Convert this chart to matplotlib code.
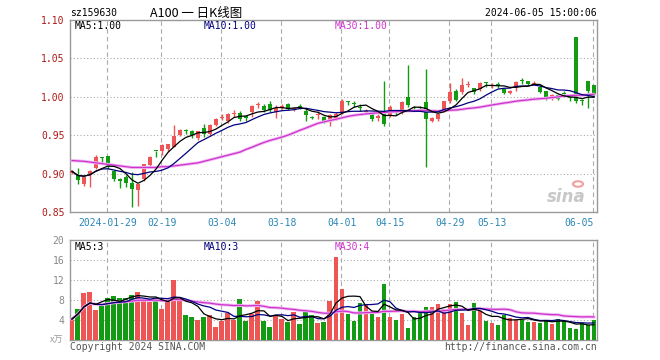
import numpy as np
import pandas as pd
import matplotlib
matplotlib.use("Agg")
import matplotlib.pyplot as plt
from matplotlib.patches import Circle

# trading days 2024-01-19 .. 2024-06-05, index 0..87
tick_idx = [6, 15, 25, 35, 45, 53, 63, 70, 87]
tick_labels = ['2024-01-29', '02-19', '03-04', '03-18', '04-01',
               '04-15', '04-29', '05-13', '06-05']

opens = [0.901, 0.898, 0.886, 0.899, 0.907, 0.921, 0.923, 0.904, 0.893, 0.896,
         0.888, 0.878, 0.893, 0.911, 0.930, 0.930, 0.932, 0.935, 0.950, 0.956,
         0.956, 0.946, 0.959, 0.951, 0.963, 0.973, 0.968, 0.978, 0.979, 0.975,
         0.980, 0.989, 0.988, 0.991, 0.980, 0.986, 0.991, 0.984, 0.988, 0.982,
         0.974, 0.976, 0.974, 0.967, 0.972, 0.979, 0.994, 0.992, 0.987, 0.980,
         0.977, 0.973, 0.981, 0.976, 0.981, 0.981, 1.000, 0.986, 0.987, 0.993,
         0.969, 0.971, 0.983, 0.994, 1.008, 1.006, 1.016, 1.011, 1.010, 1.019,
         1.014, 1.016, 1.010, 1.005, 1.011, 1.021, 1.020, 1.017, 1.013, 1.007,
         0.997, 1.002, 1.005, 1.000, 1.078, 0.995, 1.020, 1.015]
highs = [0.905, 0.907, 0.896, 0.905, 0.924, 0.9215, 0.923, 0.905, 0.894, 0.898,
         0.902, 0.887, 0.913, 0.923, 0.930, 0.938, 0.939, 0.963, 0.958, 0.958,
         0.957, 0.956, 0.964, 0.964, 0.972, 0.977, 0.979, 0.983, 0.982, 0.976,
         0.989, 0.993, 0.990, 0.994, 0.989, 0.991, 0.992, 0.987, 0.990, 0.985,
         0.9745, 0.981, 0.975, 0.978, 0.980, 0.997, 0.994, 0.994, 0.990, 0.984,
         0.979, 0.977, 1.020, 0.989, 0.983, 0.994, 1.041, 0.988, 0.988, 1.036,
         0.974, 0.979, 0.995, 1.018, 1.010, 1.025, 1.021, 1.012, 1.019, 1.019,
         1.018, 1.019, 1.011, 1.009, 1.020, 1.025, 1.021, 1.021, 1.016, 1.008,
         1.003, 1.004, 1.007, 1.000, 1.078, 0.997, 1.021, 1.016]
lows = [0.899, 0.886, 0.884, 0.883, 0.906, 0.914, 0.906, 0.891, 0.881, 0.882,
        0.857, 0.858, 0.890, 0.910, 0.922, 0.924, 0.930, 0.934, 0.949, 0.952,
        0.947, 0.944, 0.948, 0.949, 0.962, 0.970, 0.966, 0.974, 0.968, 0.968,
        0.974, 0.985, 0.980, 0.980, 0.973, 0.984, 0.983, 0.982, 0.984, 0.968,
        0.971, 0.971, 0.966, 0.962, 0.970, 0.978, 0.989, 0.987, 0.982, 0.978,
        0.968, 0.968, 0.962, 0.974, 0.976, 0.978, 0.987, 0.983, 0.983, 0.908,
        0.967, 0.968, 0.981, 0.992, 0.995, 1.004, 1.013, 1.004, 1.008, 1.013,
        1.011, 1.011, 1.004, 1.003, 1.008, 1.017, 1.015, 1.015, 1.005, 0.996,
        0.996, 0.996, 1.001, 0.995, 0.992, 0.989, 0.985, 1.001]
closes = [0.903, 0.892, 0.895, 0.904, 0.922, 0.920, 0.908, 0.893, 0.890, 0.888,
          0.880, 0.886, 0.912, 0.922, 0.929, 0.937, 0.938, 0.949, 0.957, 0.955,
          0.950, 0.955, 0.951, 0.963, 0.971, 0.974, 0.978, 0.979, 0.971, 0.973,
          0.988, 0.990, 0.983, 0.983, 0.986, 0.988, 0.984, 0.986, 0.987, 0.976,
          0.973, 0.977, 0.967, 0.976, 0.978, 0.994, 0.993, 0.991, 0.986, 0.982,
          0.971, 0.975, 0.964, 0.987, 0.979, 0.993, 0.989, 0.985, 0.986, 0.971,
          0.973, 0.978, 0.994, 1.006, 0.996, 1.015, 1.017, 1.006, 1.018, 1.018,
          1.015, 1.015, 1.005, 1.008, 1.019, 1.020, 1.017, 1.018, 1.006, 0.997,
          1.002, 0.997, 1.004, 0.999, 0.994, 0.994, 1.007, 1.003]
# volume in units of 万
volumes = [4.2, 6.2, 9.5, 9.7, 6.1, 6.8, 8.4, 8.8, 8.5, 8.4,
           9.0, 9.7, 8.3, 7.6, 8.4, 6.2, 7.8, 12.0, 7.8, 5.0,
           4.6, 4.1, 4.6, 5.1, 2.7, 3.8, 5.4, 4.1, 8.2, 3.8,
           5.3, 7.9, 3.9, 2.7, 4.9, 4.2, 3.7, 5.7, 3.3, 5.6,
           5.1, 3.5, 3.7, 7.9, 16.7, 10.2, 5.2, 3.9, 7.4, 7.0,
           5.5, 4.7, 11.2, 4.7, 4.0, 5.2, 2.4, 4.7, 5.5, 6.7,
           6.7, 7.2, 6.3, 7.2, 7.6, 5.5, 3.0, 7.4, 5.8, 3.9,
           3.5, 3.0, 5.1, 4.5, 4.1, 4.0, 3.7, 3.7, 3.5, 4.1,
           3.2, 4.3, 3.8, 2.4, 2.2, 3.5, 3.1, 4.0]
# MA30 of price for the first 29 sessions (earlier closes are not on the chart)
ma30_head = [0.917, 0.9165, 0.916, 0.915, 0.914, 0.913, 0.912, 0.911, 0.910, 0.909,
             0.908, 0.908, 0.908, 0.908, 0.908, 0.909, 0.909, 0.910, 0.911, 0.912,
             0.913, 0.914, 0.916, 0.918, 0.920, 0.922, 0.924, 0.926, 0.928]

RED = '#ee5555'
GREEN = '#139c13'
GRID = '#aaaaaa'
MONO = 'DejaVu Sans Mono'

n = len(closes)
x = np.arange(n)
o = np.array(opens)
c = np.array(closes)
up = c >= o
colors = [RED if u else GREEN for u in up]

s = pd.Series(closes)
ma5 = s.rolling(5, min_periods=1).mean()
ma10 = s.rolling(10, min_periods=1).mean()
ma30 = s.rolling(30).mean()
ma30.iloc[:len(ma30_head)] = ma30_head

v = pd.Series(volumes)
vma5 = v.rolling(5, min_periods=1).mean()
vma10 = v.rolling(10, min_periods=1).mean()
vma30 = v.rolling(30, min_periods=1).mean()

W, H = 660, 360
fig = plt.figure(figsize=(W / 100, H / 100), dpi=100)
ax1 = fig.add_axes([70 / W, 1 - 212 / H, 527 / W, 192 / H])
ax2 = fig.add_axes([70 / W, 1 - 340 / H, 527 / W, 100 / H])

def px(xp, yp):
    return xp / W, 1 - yp / H

xlim = (-0.33, 87.5)
grid_x = [t - 0.2 for t in tick_idx]

# ---- price panel ----
ax1.vlines(x, lows, highs, colors=colors, lw=1, zorder=3)
body_lo = np.minimum(o, c)
body_h = np.maximum(np.abs(c - o), 0.0013)
ax1.bar(x, body_h, bottom=body_lo, width=0.75, color=colors, linewidth=0, zorder=4)

ax1.plot(x, ma30, color='#f2b6f2', lw=2.2, zorder=5, solid_capstyle='round')
ax1.plot(x, ma30, color='#cc33cc', lw=0.9, zorder=6)
ax1.plot(x, ma10, color='#000080', lw=0.9, zorder=6)
ax1.plot(x, ma5, color='black', lw=0.9, zorder=7)

ax1.set_xlim(*xlim)
ax1.set_ylim(0.85, 1.10)
ax1.set_yticks([0.85, 0.90, 0.95, 1.00, 1.05, 1.10])
ax1.set_yticklabels(['%.2f' % t for t in [0.85, 0.90, 0.95, 1.00, 1.05, 1.10]],
                    color='#b01818', fontsize=7, family=MONO)
for yv in [0.90, 0.95, 1.00, 1.05]:
    ax1.axhline(yv, color=GRID, lw=0.8, ls=(0, (1, 2)), zorder=1)
for gx in grid_x:
    ax1.axvline(gx, color=GRID, lw=0.8, ls=(0, (4, 3)), zorder=1)
ax1.set_xticks(tick_idx)
ax1.set_xticklabels(tick_labels, color='#2a87b5', fontsize=7, family=MONO)
ax1.get_xticklabels()[-1].set_ha('right')
ax1.tick_params(length=0, pad=4)

# ---- volume panel ----
ax2.bar(x, volumes, width=0.83, color=colors, linewidth=0, zorder=3)
ax2.plot(x, vma30, color='#f2b6f2', lw=2.2, zorder=4)
ax2.plot(x, vma30, color='#cc33cc', lw=0.9, zorder=5)
ax2.plot(x, vma10, color='#000080', lw=0.9, zorder=5)
ax2.plot(x, vma5, color='black', lw=0.9, zorder=6)
ax2.set_xlim(*xlim)
ax2.set_ylim(0, 20)
ax2.set_yticks([4, 8, 12, 16, 20])
ax2.set_yticklabels(['4', '8', '12', '16', '20'], color='#888888', fontsize=7, family=MONO)
ax2.set_xticks([])
for yv in [4, 8, 12, 16]:
    ax2.axhline(yv, color=GRID, lw=0.8, ls=(0, (1, 2)), zorder=1)
for gx in grid_x:
    ax2.axvline(gx, color=GRID, lw=0.8, ls=(0, (4, 3)), zorder=1)
ax2.tick_params(length=0, pad=4)

for ax in (ax1, ax2):
    for sp in ax.spines.values():
        sp.set_color('#999999')
        sp.set_linewidth(1)

# ---- texts ----
fig.text(*px(70, 13), 'sz159630', fontsize=7, family=MONO, va='center')
fig.text(*px(150, 13), 'A100 一 日K线图', fontsize=9,
         family=['Noto Sans CJK SC', 'DejaVu Sans'], va='center')
fig.text(*px(597, 13), '2024-06-05 15:00:06', fontsize=7, family=MONO,
         va='center', ha='right')

fig.text(*px(75, 26), 'MA5:%.2f' % ma5.iloc[-1], fontsize=7, family=MONO, va='center')
fig.text(*px(204, 26), 'MA10:%.2f' % ma10.iloc[-1], fontsize=7, family=MONO,
         va='center', color='#000080')
fig.text(*px(335, 26), 'MA30:%.2f' % ma30.iloc[-1], fontsize=7, family=MONO,
         va='center', color='#cc33cc')

fig.text(*px(75, 246.5), 'MA5:%d' % int(vma5.iloc[-1]), fontsize=7, family=MONO, va='center')
fig.text(*px(204, 246.5), 'MA10:%d' % int(vma10.iloc[-1]), fontsize=7, family=MONO,
         va='center', color='#000080')
fig.text(*px(335, 246.5), 'MA30:%d' % int(vma30.iloc[-1]), fontsize=7, family=MONO,
         va='center', color='#cc33cc')

fig.text(*px(63, 340), 'x万', fontsize=6.5, family=['Noto Sans CJK SC', 'DejaVu Sans'],
         va='center', ha='right', color='#999999')
fig.text(*px(70, 346.5), 'Copyright 2024 SINA.COM', fontsize=7, family=MONO,
         va='center', color='#555555')
fig.text(*px(597, 346.5), 'http://finance.sina.com.cn', fontsize=7, family=MONO,
         va='center', ha='right', color='#555555')

# sina watermark
fig.text(*px(566, 197), 'sina', fontsize=12, style='italic', weight='bold',
         color='#c8c8c8', va='center', ha='center')
fig.patches.append(Circle(px(578, 184), 5 / W, transform=fig.transFigure,
                          facecolor='none', edgecolor='#f0a0a0', lw=1.5))

fig.savefig('out.png', dpi=100)
